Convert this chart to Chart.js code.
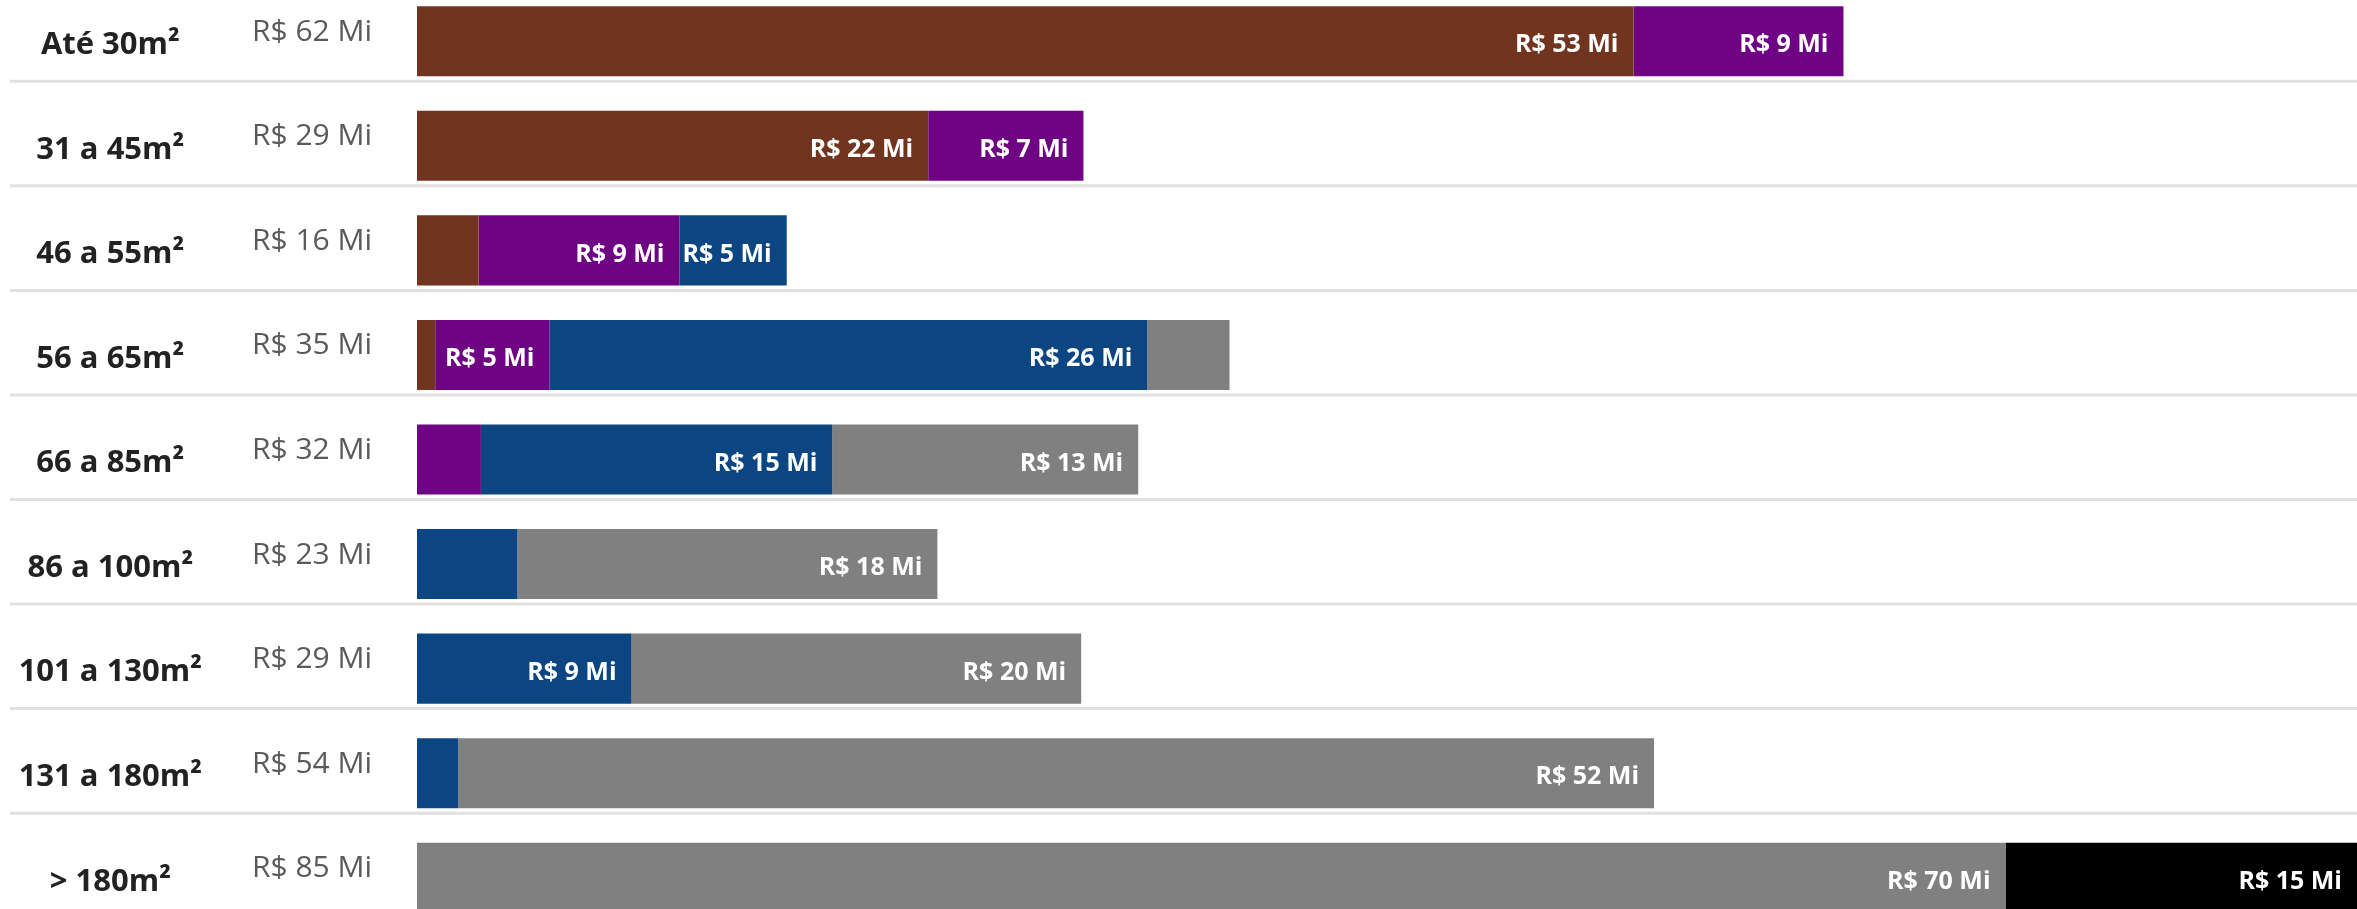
<!DOCTYPE html>
<html lang="pt-BR">
<head>
<meta charset="utf-8">
<title>Valor por faixa de área</title>
<script src="https://cdn.jsdelivr.net/npm/chart.js@4.4.1/dist/chart.umd.min.js"></script>
<style>
  html, body { margin: 0; padding: 0; background: #fff; overflow: hidden; }
  #wrap { position: absolute; left: 0; top: -11px; width: 2357px; height: 941px; }
</style>
</head>
<body>
<div id="wrap"><canvas id="myChart"></canvas></div>
<script>
// categories (area ranges) and total per range, in R$ Mi
var categories = ['Até 30m²', '31 a 45m²', '46 a 55m²', '56 a 65m²', '66 a 85m²',
                  '86 a 100m²', '101 a 130m²', '131 a 180m²', '> 180m²'];
var totals = [62, 29, 16, 35, 32, 23, 29, 54, 85];

// stacked segments (R$ Mi)
var brown  = [53.3, 22.4, 2.7, 0.8, null, null, null, null, null];
var purple = [9.2, 6.8, 8.8, 5.0, 2.8, null, null, null, null];
var blue   = [null, null, 4.7, 26.2, 15.4, 4.4, 9.4, 1.8, null];
var gray   = [null, null, null, 3.6, 13.4, 18.4, 19.7, 52.4, 69.6];
var black  = [null, null, null, null, null, null, null, null, 15.4];

var totalLabels = totals.map(function (v) { return 'R$ ' + v + ' Mi'; });

// white value labels inside the segments
var barLabels = {
    id: 'barLabels',
    afterDatasetsDraw: function (chart) {
        var ctx = chart.ctx;
        ctx.save();
        ctx.font = 'bold 25px "Open Sans"';
        ctx.fillStyle = '#ffffff';
        ctx.textAlign = 'right';
        ctx.textBaseline = 'middle';
        chart.data.datasets.forEach(function (ds, i) {
            chart.getDatasetMeta(i).data.forEach(function (bar, j) {
                var v = ds.data[j];
                if (v == null || Math.round(v) < 5) return;
                ctx.fillText('R$ ' + Math.round(v) + ' Mi', bar.x - 15, bar.y + 4);
            });
        });
        ctx.restore();
    }
};

// light grey line under each row
var rowLines = {
    id: 'rowLines',
    beforeDatasetsDraw: function (chart) {
        var ctx = chart.ctx;
        var y = chart.scales.y;
        ctx.save();
        ctx.strokeStyle = '#e1e1e1';
        ctx.lineWidth = 3;
        for (var i = 0; i < categories.length; i++) {
            var py = y.getPixelForValue(i) + 40;
            ctx.beginPath();
            ctx.moveTo(10, py);
            ctx.lineTo(chart.width, py);
            ctx.stroke();
        }
        ctx.restore();
    }
};

// keep the label columns at fixed widths, without extra top/bottom padding
function fixWidth(w) {
    return function (scale) {
        scale.width = w;
        scale.paddingTop = 0;
        scale.paddingBottom = 0;
    };
}

function makeSet(label, data, color) {
    return {
        label: label,
        data: data,
        backgroundColor: color,
        borderWidth: 0,
        categoryPercentage: 1,
        barPercentage: 0.67
    };
}

var ctx = document.getElementById('myChart').getContext('2d');
var myChart = new Chart(ctx, {
    type: 'bar',
    data: {
        labels: categories,
        datasets: [
            makeSet('Faixa 1', brown, '#71351f'),
            makeSet('Faixa 2', purple, '#6e0484'),
            makeSet('Faixa 3', blue, '#0c4682'),
            makeSet('Faixa 4', gray, '#808080'),
            makeSet('Faixa 5', black, '#000000')
        ]
    },
    options: {
        indexAxis: 'y',
        responsive: true,
        maintainAspectRatio: false,
        animation: false,
        devicePixelRatio: 1,
        layout: { padding: 0 },
        plugins: {
            legend: { display: false },
            tooltip: { enabled: false }
        },
        scales: {
            x: {
                stacked: true,
                min: 0,
                max: 85,
                display: false
            },
            y: {
                stacked: true,
                offset: true,
                weight: 2,
                border: { display: false },
                grid: { display: false, drawTicks: false },
                ticks: {
                    crossAlign: 'center',
                    padding: 50,
                    labelOffset: 4,
                    color: '#222222',
                    font: { family: '"Open Sans"', size: 31, weight: 'bold' }
                },
                afterFit: fixWidth(252)
            },
            y2: {
                type: 'category',
                axis: 'y',
                position: 'left',
                labels: totalLabels,
                offset: true,
                weight: 1,
                border: { display: false },
                grid: { display: false, drawTicks: false },
                ticks: {
                    crossAlign: 'far',
                    padding: 0,
                    labelOffset: -9,
                    color: '#5a5a5a',
                    font: { family: '"Open Sans"', size: 30 }
                },
                afterFit: fixWidth(165)
            }
        }
    },
    plugins: [rowLines, barLabels]
});
</script>
</body>
</html>
